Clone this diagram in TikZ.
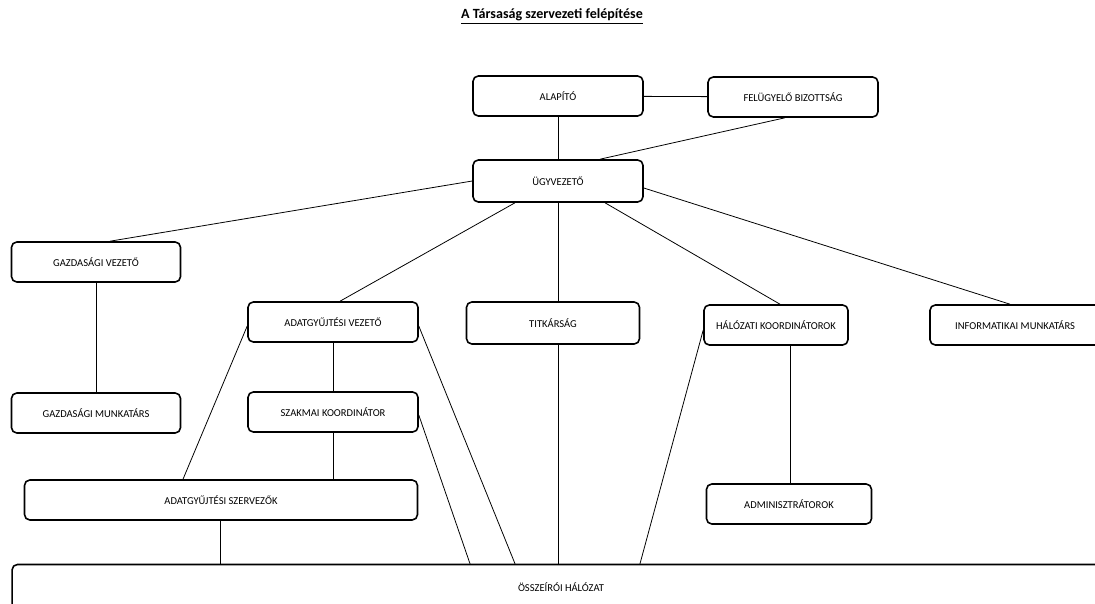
\documentclass[tikz,border=0pt]{standalone}
\usepackage{fontspec}
\setmainfont{Carlito}
\usetikzlibrary{calc,positioning}

\begin{document}
\begin{tikzpicture}[x=0.02cm, y=-0.02cm, line cap=round, line join=round,
    unit/.style={draw, rounded corners=3pt, line width=0.9pt, minimum width=3.4cm, minimum height=0.8cm, inner sep=1pt, font=\fontsize{6}{7}\selectfont},
    link/.style={line width=0.45pt}]
		\useasboundingbox (0,0) rectangle (1095,604);
		\clip (0,0) rectangle (1095,604);
		% title
		\node (title) at (552,17) {\fontsize{8}{9}\selectfont\bfseries\underline{A Társaság szervezeti felépítése}};

		% top levels
		\node[unit] (alap) at (558,96) {ALAPÍTÓ};
		\node[unit] (fb) at (793,97) {\raisebox{-2pt}{FELÜGYELŐ BIZOTTSÁG}};
		\node[unit, minimum height=0.84cm] (ugyv) at (558,181) {ÜGYVEZETŐ};

		% second level
		\node[unit, minimum width=3.38cm] (gvez) at (96,262) {GAZDASÁGI VEZETŐ};
		\node[unit] (avez) at (333,322) {ADATGYŰJTÉSI VEZETŐ};
		\node[unit, minimum width=3.46cm, minimum height=0.84cm] (titk) at (553,323) {TITKÁRSÁG};
		\node[unit, minimum width=2.88cm] (hkoord) at (776,325) {HÁLÓZATI KOORDINÁTOROK};
		\node[unit, minimum width=3.4cm] (infm) at (1015,325) {INFORMATIKAI MUNKATÁRS};

		% third level
		\node[unit, minimum width=3.38cm] (gmunk) at (96,413) {GAZDASÁGI MUNKATÁRS};
		\node[unit] (szk) at (333,412) {SZAKMAI KOORDINÁTOR};
		\node[unit, minimum width=7.86cm] (aszerv) at (221,500) {ADATGYŰJTÉSI SZERVEZŐK};
		\node[unit, minimum width=3.3cm] (admin) at (789,504) {ADMINISZTRÁTOROK};
		\node[unit, minimum width=21.96cm, minimum height=0.9cm] (ossz) at (561,587) {ÖSSZEÍRÓI HÁLÓZAT};

		% connectors
		\draw[link] (alap) -- (fb);
		\draw[link] (alap) -- (ugyv);
		\draw[link] ($(fb.south)+(-8,0)$) -- ($(ugyv.north)+(42,0)$);
		\draw[link] (ugyv.west) -- ($(gvez.north)+(14,0)$);
		\draw[link] ($(ugyv.south)+(-43,0)$) -- ($(avez.north)+(7,0)$);
		\draw[link] (ugyv.south) -- ($(titk.north)+(5,0)$);
		\draw[link] ($(ugyv.south)+(47,0)$) -- ($(hkoord.north)+(4,0)$);
		\draw[link] ($(ugyv.east)+(0,7)$) -- ($(infm.north)+(-5,0)$);
		\draw[link] (gvez) -- (gmunk);
		\draw[link] (avez) -- (szk);
		\draw[link] ($(avez.west)+(0,4)$) -- ($(aszerv.north)+(-38,0)$);
		\draw[link] ($(avez.east)+(0,4)$) -- ($(ossz.north)+(-46,0)$);
		\draw[link] ($(szk.east)+(0,3)$) -- ($(ossz.north)+(-91,0)$);
		\draw[link] (szk) -- ($(aszerv.north)+(112,0)$);
		\draw[link] ($(aszerv.south)+(-1,0)$) -- ($(ossz.north)+(-341,0)$);
		\draw[link] ($(titk.south)+(5,0)$) -- ($(ossz.north)+(-3,0)$);
		\draw[link] ($(hkoord.west)+(0,5)$) -- ($(ossz.north)+(79,0)$);
		\draw[link] ($(hkoord.south)+(14,0)$) -- ($(admin.north)+(1,0)$);
\end{tikzpicture}
\end{document}
